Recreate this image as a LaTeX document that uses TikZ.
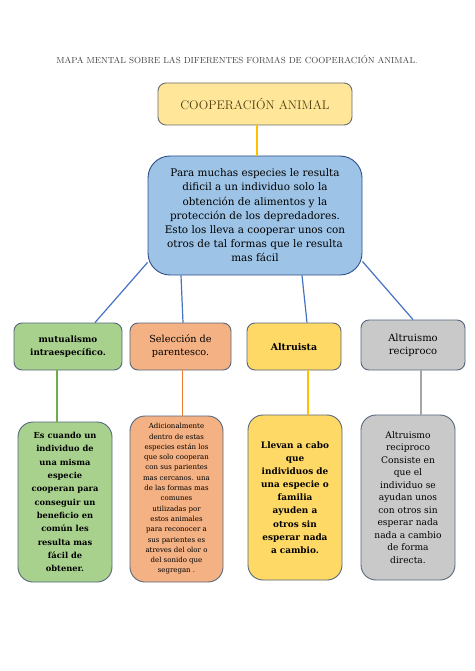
\documentclass[tikz,border=0pt]{standalone}
\usepackage{fontspec}
\setmainfont{DejaVu Serif}
\newfontfamily\lmfont{Latin Modern Roman}
\usetikzlibrary{calc}
\definecolor{topfill}{HTML}{FFE699}
\definecolor{bluefill}{HTML}{9DC3E6}
\definecolor{blueline}{HTML}{4472C4}
\definecolor{greenfill}{HTML}{A9D18E}
\definecolor{greenline}{HTML}{70AD47}
\definecolor{orangefill}{HTML}{F4B183}
\definecolor{orangeline}{HTML}{ED7D31}
\definecolor{yellowfill}{HTML}{FFD966}
\definecolor{yellowline}{HTML}{FFC000}
\definecolor{grayfill}{HTML}{C9C9C9}
\definecolor{grayline}{HTML}{A5A5A5}
\definecolor{boxborder}{HTML}{56667C}
\definecolor{titlecol}{HTML}{404040}
\definecolor{headcol}{HTML}{4D3F12}
\tikzset{
  box/.style={draw=boxborder, line width=0.9pt, align=center, inner sep=0pt, text=black},
  rowbox/.style={box, rounded corners=8pt, minimum height=47pt},
  descbox/.style={box, rounded corners=15pt},
  conn/.style={line width=1.2pt},
}
\begin{document}
\begin{tikzpicture}[x=1pt,y=-1pt]
\useasboundingbox (0,0) rectangle (474,671);
\fill[white] (0,0) rectangle (474,671);

\node[text=titlecol, font=\lmfont\fontsize{8.8}{10}\selectfont] (title) at (237,60)
  {MAPA MENTAL SOBRE LAS DIFERENTES FORMAS DE COOPERACIÓN ANIMAL.};

\node[box, draw=gray!85!black, fill=topfill, rounded corners=8pt, minimum width=194pt, minimum height=42pt,
  text=headcol, font=\lmfont\fontsize{12.5}{14}\selectfont] (top) at (255,104) {COOPERACIÓN ANIMAL};

\node[box, draw=blueline!70!black, fill=bluefill, rounded corners=22pt, minimum width=214pt, minimum height=119pt,
  font=\fontsize{10.4}{14.2}\selectfont] (blue) at (255,215.5)
  {Para muchas especies le resulta\\dificil a un individuo solo la\\obtención de alimentos y la\\protección de los depredadores.\\Esto los lleva a cooperar unos con\\otros de tal formas que le resulta\\mas fácil};

\node[rowbox, fill=greenfill, minimum width=108pt, font=\bfseries\fontsize{8.8}{13}\selectfont] (g1) at (68,346.5)
  {mutualismo\\intraespecífico.};
\node[rowbox, fill=orangefill, minimum width=101pt, font=\fontsize{9.7}{13}\selectfont] (o1) at (180.5,346.5)
  {Selección de\\parentesco.};
\node[rowbox, fill=yellowfill, minimum width=94pt, font=\bfseries\fontsize{9.4}{13}\selectfont] (y1) at (294,346.5)
  {Altruista};
\node[rowbox, fill=grayfill, minimum width=104pt, minimum height=50pt, font=\fontsize{10}{13}\selectfont] (s1) at (413,345)
  {Altruismo\\reciproco};

\node[descbox, fill=greenfill, minimum width=94pt, minimum height=160pt, font=\bfseries\fontsize{8.3}{13.3}\selectfont] (g2) at (65,502)
  {Es cuando un\\individuo de\\una misma\\especie\\cooperan para\\conseguir un\\beneficio en\\común les\\resulta mas\\fácil de\\obtener.};
\node[descbox, fill=orangefill, minimum width=93pt, minimum height=166pt, font=\fontsize{7}{10.3}\selectfont] (o2) at (176.5,499)
  {Adicionalmente\\dentro de estas\\especies están los\\que solo cooperan\\con sus parientes\\mas cercanos. una\\de las formas mas\\comunes\\utilizadas por\\estos animales\\para reconocer a\\sus parientes es\\atreves del olor o\\del sonido que\\segregan .};
\node[descbox, fill=yellowfill, minimum width=94pt, minimum height=165pt, font=\bfseries\fontsize{8.9}{13.1}\selectfont] (y2) at (295,497.5)
  {Llevan a cabo\\que\\individuos de\\una especie o\\familia\\ayuden a\\otros sin\\esperar nada\\a cambio.};
\node[descbox, fill=grayfill, minimum width=94pt, minimum height=165pt, font=\fontsize{9.1}{12.5}\selectfont] (s2) at (408,497.5)
  {Altruismo\\reciproco\\Consiste en\\que el\\individuo se\\ayudan unos\\con otros sin\\esperar nada\\nada a cambio\\de forma\\directa.};

\draw[conn, yellowline] ($(top.south)+(2,0)$) -- ($(blue.north)+(2,0)$);
\draw[conn, blueline] ($(blue.south west)+(0,-13)$) -- ($(g1.north)+(27,0)$);
\draw[conn, blueline] ($(blue.south)+(-74,0)$) -- ($(o1.north)+(2.5,0)$);
\draw[conn, blueline] ($(blue.south)+(47,0)$) -- ($(y1.north)+(13,0)$);
\draw[conn, blueline] ($(blue.south east)+(0,-14)$) -- (s1.north);

\draw[conn, greenline] ($(g1.south)+(-11,0)$) -- ($(g2.north)+(-8,0)$);
\draw[conn, orangeline] ($(o1.south)+(2,0)$) -- ($(o2.north)+(6,0)$);
\draw[conn, yellowline] ($(y1.south)+(14,0)$) -- ($(y2.north)+(13,0)$);
\draw[conn, grayline] ($(s1.south)+(8,0)$) -- ($(s2.north)+(13,0)$);
\end{tikzpicture}
\end{document}
